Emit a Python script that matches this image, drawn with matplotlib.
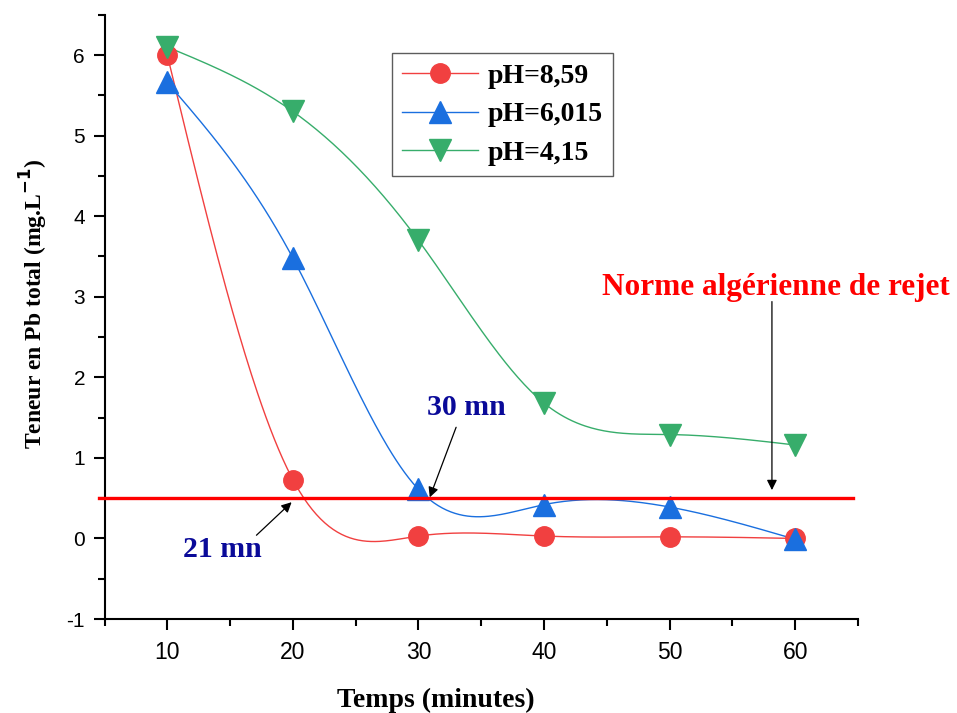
import numpy as np
import matplotlib as mpl
mpl.use('Agg')
from matplotlib import pyplot as plt

# data
temps = [10, 20, 30, 40, 50, 60]
pb_859 = [6.0, 0.73, 0.03, 0.03, 0.02, 0.0]
pb_6015 = [5.66, 3.48, 0.61, 0.42, 0.39, -0.01]
pb_415 = [6.1, 5.3, 3.7, 1.68, 1.29, 1.16]
labels = ['pH=8,59', 'pH=6,015', 'pH=4,15']
norme = 0.5

colo = ['#F14040', '#1A6FDF', '#37AD6B']
symb = ['o', '^', 'v']
msize = [14, 15.5, 15.5]


def natural_spline(x, y, n=300):
  # natural cubic spline through the points, like Origin's spline connection
  x = np.asarray(x, float)
  y = np.asarray(y, float)
  m = len(x)
  h = np.diff(x)
  A = np.zeros((m, m))
  b = np.zeros(m)
  A[0, 0] = 1.0
  A[-1, -1] = 1.0
  for i in range(1, m-1):
    A[i, i-1] = h[i-1]
    A[i, i] = 2*(h[i-1]+h[i])
    A[i, i+1] = h[i]
    b[i] = 6*((y[i+1]-y[i])/h[i] - (y[i]-y[i-1])/h[i-1])
  M = np.linalg.solve(A, b)
  xs = np.linspace(x[0], x[-1], n)
  idx = np.clip(np.searchsorted(x, xs) - 1, 0, m-2)
  x0 = x[idx]; x1 = x[idx+1]; hh = h[idx]
  ys = (M[idx]*(x1-xs)**3/(6*hh) + M[idx+1]*(xs-x0)**3/(6*hh)
        + (y[idx]/hh - M[idx]*hh/6)*(x1-xs) + (y[idx+1]/hh - M[idx+1]*hh/6)*(xs-x0))
  return xs, ys


plt.rcParams['font.family'] = ['Liberation Sans', 'DejaVu Sans']
plt.rcParams['axes.unicode_minus'] = False
serif = ['Liberation Serif', 'DejaVu Serif']
navy = '#0A0A99'

fig = plt.figure(figsize=(9.57, 7.13), dpi=100)
ax = fig.add_axes([0.1092, 0.1318, 0.7873, 0.8475])

series = [pb_859, pb_6015, pb_415]
for k in range(3):
  xs, ys = natural_spline(temps, series[k])
  ax.plot(xs, ys, color=colo[k], linewidth=1.0, zorder=2)
  ax.plot(temps, series[k], linestyle='', marker=symb[k], color=colo[k], markersize=msize[k], zorder=3)

# legend handles: line + marker
handles = [plt.Line2D([], [], color=colo[k], linewidth=1.0, marker=symb[k], markersize=msize[k])
           for k in range(3)]
leg = ax.legend(handles, labels, loc='upper left', bbox_to_anchor=(0.3815, 0.936),
                prop={'family': serif, 'weight': 'bold', 'size': 20},
                frameon=True, fancybox=False, edgecolor='#333333', handlelength=2.75,
                handletextpad=0.35, borderpad=0.35, labelspacing=0.48, borderaxespad=0)
leg.get_frame().set_linewidth(1.0)

# norme line
ax.plot([4.6, 64.6], [norme, norme], color='red', linewidth=2.4, clip_on=False, zorder=4)

# annotations
arrow = dict(arrowstyle='-|>', color='black', lw=0.9, mutation_scale=15, shrinkA=0, shrinkB=0)
ax.text(58.5, 3.12, 'Norme algérienne de rejet', ha='center', va='center', color='red',
        fontsize=22.5, fontweight='bold', family=serif, clip_on=False)
ax.annotate('', xy=(58.15, 0.6), xytext=(58.15, 2.94), arrowprops=arrow)
ax.text(33.8, 1.62, '30 mn', ha='center', va='center', color=navy,
        fontsize=21.5, fontweight='bold', family=serif)
ax.annotate('', xy=(30.9, 0.51), xytext=(33.0, 1.38), arrowprops=arrow)
ax.text(14.4, -0.14, '21 mn', ha='center', va='center', color=navy,
        fontsize=21.5, fontweight='bold', family=serif)
ax.annotate('', xy=(19.9, 0.45), xytext=(17.1, 0.04), arrowprops=arrow)

ax.set_xlim(5, 65)
ax.set_ylim(-1, 6.5)
ax.set_xticks([10, 20, 30, 40, 50, 60])
ax.set_xticks(np.arange(5, 66, 10), minor=True)
ax.set_yticks(np.arange(-1, 7, 1))
ax.set_yticks(np.arange(-0.5, 6.6, 1), minor=True)

for s in ['top', 'right']:
  ax.spines[s].set_visible(False)
for s in ['left', 'bottom']:
  ax.spines[s].set_linewidth(1.5)
ax.tick_params(which='major', direction='out', length=8, width=1.5)
ax.tick_params(which='minor', direction='out', length=5, width=1.5)
ax.tick_params(axis='x', labelsize=16.5, pad=8)
ax.tick_params(axis='y', labelsize=15, pad=6)

fig.text(436/957, 1-700/713, 'Temps (minutes)', ha='center', va='center',
         family=serif, fontweight='bold', fontsize=20)
fig.text(34/957, 1-304/713, r'Teneur en Pb total (mg.L$^{\mathbf{-1}}$)', ha='center', va='center',
         rotation=90, family=serif, fontweight='bold', fontsize=17)

plt.savefig('out.png', dpi=100)
